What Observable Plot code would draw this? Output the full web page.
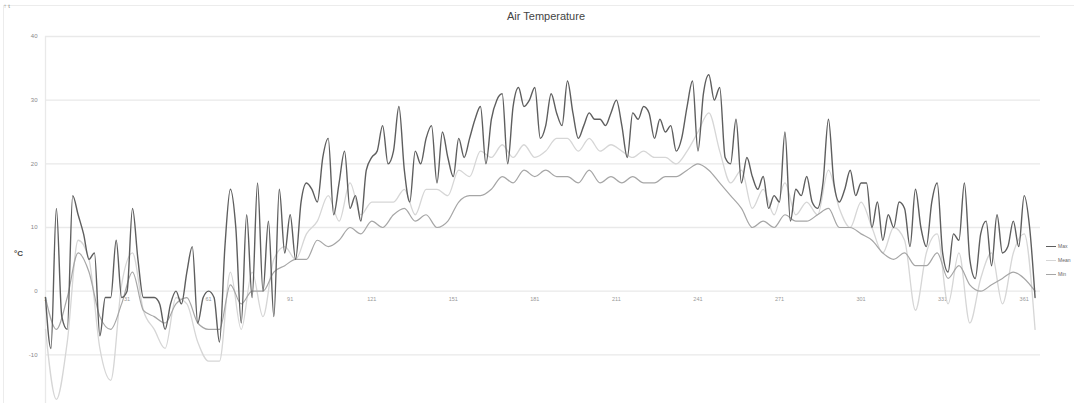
<!DOCTYPE html>
<html><head><meta charset="utf-8">
<script src="https://cdn.jsdelivr.net/npm/d3@7"></script>
<script src="https://cdn.jsdelivr.net/npm/@observablehq/plot@0.6"></script>
<style>
html,body{margin:0;padding:0;background:#fff;overflow:hidden;width:1074px;height:403px}
body{font-family:"Liberation Sans",Arial,sans-serif;position:relative}
#card{position:absolute;left:3px;top:5px;width:1200px;height:600px;border:1px solid #ececec;box-sizing:border-box}
#title{position:absolute;top:10px;left:0;width:1092px;text-align:center;font-size:11px;color:#444}
#chart{position:absolute;left:0;top:0}
#ylab{position:absolute;left:14px;top:249px;font-size:8px;font-weight:bold;color:#444}
#legend{position:absolute;left:1046px;top:239px;font-size:5px;color:#666;white-space:nowrap}
#legend div{height:14px;display:flex;align-items:center}
#legend span.sw{display:inline-block;width:10px;height:0;border-top:1.5px solid;margin-right:2px}
</style></head>
<body>
<div id="card"></div>
<div id="chart"></div>
<div id="title">Air Temperature</div>
<div id="ylab">°C</div>
<div id="legend"></div>
<script>
const seriesNames = ["Max", "Mean", "Min"];
const seriesColors = ["#5e5e5e", "#d6d6d6", "#a6a6a6"];
const xTicks = [1, 31, 61, 91, 121, 151, 181, 211, 241, 271, 301, 331, 361];
const yTicks = [-10, 0, 10, 20, 30, 40];
// Max: every 2nd day starting at day 1
const maxStep = 2;
const maxT = [-1,-9,13,-4,-6,15,12,9,5,6,-7,-1,-1,8,-1,0,13,5,-1,-1,-1,-2,-6,-2,0,-2,3,7,-5,-1,0,-1,-8,7,16,10,-5,12,-1,17,0,11,-4,16,6,12,5,14,17,16,14,21,24,12,17,22,13,15,11,19,21,22,26,20,22,29,19,14,22,20,24,26,17,25,21,18,24,21,24,27,29,20,27,30,31,20,29,32,29,30,32,24,26,31,28,26,33,28,24,26,28,27,27,26,28,30,26,21,28,27,29,28,24,27,25,26,22,24,29,33,22,31,34,30,32,21,20,27,17,21,18,16,18,13,15,14,25,11,16,15,18,14,13,17,27,17,14,16,19,15,17,17,10,14,8,12,10,14,13,7,16,10,7,14,17,6,3,9,8,17,5,2,9,11,4,12,6,7,11,7,15,10,-1];
// Mean and Min: every 4th day starting at day 1
const meanMinStep = 4;
const meanT = [-6,-17,-8,8,5,-9,-14,1,6,-3,-6,-9,-1,-2,-8,-11,-11,3,-6,3,-4,5,7,5,9,11,15,11,17,12,14,14,14,16,12,16,16,15,19,18,22,21,23,21,23,21,22,24,24,22,24,22,23,22,21,22,21,21,20,22,25,28,22,17,19,13,16,12,17,12,14,12,19,13,10,14,10,6,10,8,-3,6,9,-2,6,-5,2,6,-2,6,9,-6];
const minT = [-1,-6,-1,6,3,-4,-6,-2,3,-3,-4,-5,-2,-1,-5,-6,-6,1,-2,0,0,3,4,5,5,8,7,8,10,9,11,10,12,13,11,12,10,11,14,15,15,16,18,17,19,18,19,18,18,17,19,17,18,17,18,17,17,18,18,19,20,19,17,15,13,10,11,10,12,11,11,12,13,10,10,9,8,6,5,6,4,4,6,2,4,1,0,1,2,3,2,0];

const toRows = (vals, step, name) => vals.map((v, i) => ({day: 1 + i * step, t: v, s: name}));
const rowsMax = toRows(maxT, maxStep, seriesNames[0]);
const rowsMean = toRows(meanT, meanMinStep, seriesNames[1]);
const rowsMin = toRows(minT, meanMinStep, seriesNames[2]);

const chart = Plot.plot({
  width: 1074, height: 430,
  marginTop: 36, marginBottom: 12, marginLeft: 45, marginRight: 34,
  style: {background: "transparent", fontFamily: "Liberation Sans, Arial, sans-serif"},
  x: {domain: [1, 367], axis: null},
  y: {domain: [-20, 40], axis: null},
  marks: [
    Plot.gridY(yTicks, {stroke: "#e9e9e9", strokeOpacity: 1, strokeWidth: 1.3}),
    Plot.ruleX([1], {y1: -20, y2: 40, stroke: "#e9e9e9", strokeWidth: 1.3}),
    Plot.axisY(yTicks, {tickSize: 0, tickPadding: 8, fontSize: 6, fill: "#888", tickFormat: d => String(d)}),
    Plot.text(xTicks, {x: d => d, y: 0, dy: 8, text: d => String(d), fontSize: 5.5, fill: "#999"}),
    Plot.line(rowsMean, {x: "day", y: "t", stroke: seriesColors[1], strokeWidth: 1.3, curve: "monotone-x"}),
    Plot.line(rowsMin, {x: "day", y: "t", stroke: seriesColors[2], strokeWidth: 1.2, curve: "monotone-x"}),
    Plot.line(rowsMax, {x: "day", y: "t", stroke: seriesColors[0], strokeWidth: 1.4, curve: "monotone-x"})
  ]
});
document.getElementById("chart").appendChild(chart);

const leg = document.getElementById("legend");
seriesNames.forEach((n, i) => {
  const row = document.createElement("div");
  const sw = document.createElement("span");
  sw.className = "sw"; sw.style.borderTopColor = seriesColors[i];
  row.appendChild(sw);
  row.appendChild(document.createTextNode(n));
  leg.appendChild(row);
});
</script>
</body></html>
